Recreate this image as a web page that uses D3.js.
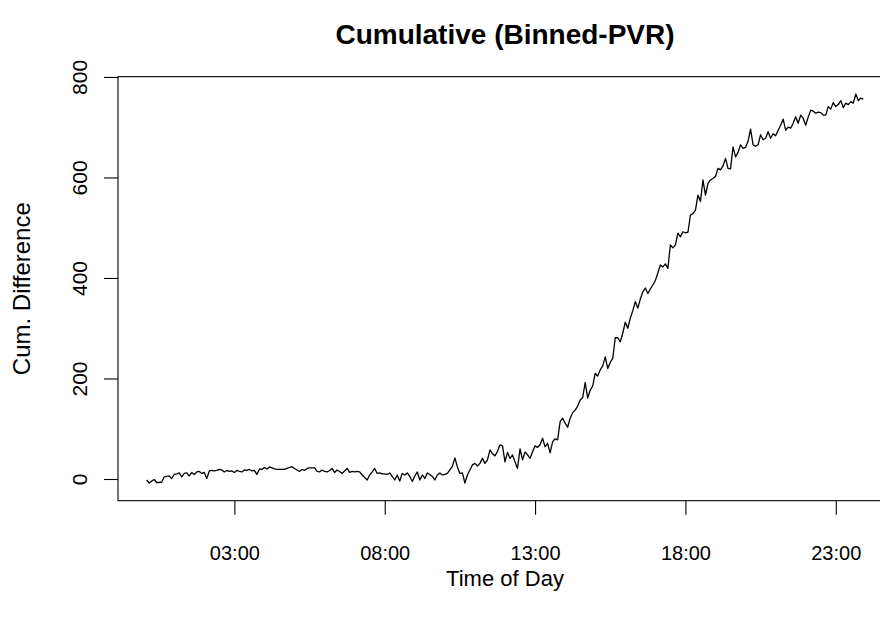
<!DOCTYPE html>
<html>
<head>
<meta charset="utf-8">
<script src="https://cdn.jsdelivr.net/npm/d3@7"></script>
<style>
  html, body { margin: 0; padding: 0; background: #fff; }
  svg { display: block; font-family: "Liberation Sans", Arial, Helvetica, sans-serif; }
</style>
</head>
<body>
<svg id="chart" width="880" height="621"></svg>
<script>
// ---- data ----
const chartTitle = "Cumulative (Binned-PVR)";
const xLabel = "Time of Day";
const yLabel = "Cum. Difference";

// bin times (minutes after midnight), 5-minute bins 00:05 .. 23:55
const binMinutes = d3.range(5, 1440, 5);

// cumulative difference per bin
const cumDiff = [
  -2, -8, -4, -1, -7, -7, -6, 4, 5, 6,
  1, 9, 10, 12, 4, 11, 12, 6, 13, 9,
  14, 15, 11, 13, 1, 16, 17, 16, 17, 19,
  18, 14, 17, 15, 16, 13, 17, 15, 14, 18,
  17, 19, 16, 17, 9, 20, 19, 23, 20, 24,
  22, 20, 19, 19, 19, 19, 21, 23, 24, 21,
  18, 15, 19, 17, 21, 22, 22, 22, 15, 14,
  18, 15, 14, 17, 21, 13, 18, 15, 11, 16,
  21, 13, 15, 14, 15, 14, 8, 3, -2, 8,
  14, 21, 11, 12, 10, 10, 9, 12, 5, -2,
  8, -4, 11, 8, 12, 5, -5, 6, 14, -2,
  8, 1, 12, 9, 5, -2, 8, 12, 8, 9,
  11, 18, 25, 42, 24, 11, 12, -8, 8, 18,
  28, 31, 26, 31, 41, 31, 38, 58, 50, 46,
  55, 68, 66, 34, 53, 41, 48, 34, 21, 60,
  38, 54, 48, 41, 54, 66, 63, 68, 81, 64,
  71, 52, 74, 80, 78, 114, 121, 111, 103, 121,
  132, 137, 145, 157, 162, 192, 161, 177, 185, 210,
  205, 217, 225, 243, 220, 232, 240, 281, 281, 273,
  290, 312, 300, 320, 335, 353, 340, 358, 372, 380,
  369, 378, 386, 395, 410, 426, 422, 428, 419, 466,
  460, 466, 489, 482, 492, 490, 491, 525, 528, 535,
  565, 552, 595, 565, 588, 595, 598, 602, 618, 615,
  623, 638, 618, 617, 661, 641, 650, 665, 658, 660,
  672, 696, 665, 662, 665, 685, 675, 678, 691, 678,
  687, 683, 694, 704, 716, 694, 700, 698, 708, 721,
  708, 724, 718, 704, 720, 734, 732, 728, 730, 729,
  724, 724, 741, 736, 749, 741, 745, 753, 739, 748,
  745, 751, 748, 766, 753, 758, 756
];

const xTickMinutes = [180, 480, 780, 1080, 1380];
const xTickLabels = ["03:00", "08:00", "13:00", "18:00", "23:00"];
const yTickValues = [0, 200, 400, 600, 800];

// ---- layout ----
const plot = { left: 118, right: 892, top: 76.7, bottom: 500.7 };
const svg = d3.select("#chart");

// R-style 4% padding of the data range
const xExt = d3.extent(binMinutes);
const xPad = (xExt[1] - xExt[0]) * 0.04;
const x = d3.scaleLinear().domain([xExt[0] - xPad, xExt[1] + xPad]).range([plot.left, plot.right]);
const y = d3.scaleLinear().domain([-43.2, 800.5]).range([plot.bottom, plot.top]);

const data = binMinutes.map((m, i) => ({ m, v: cumDiff[i] }));

// line
svg.append("path")
  .datum(data)
  .attr("fill", "none")
  .attr("stroke", "#000")
  .attr("stroke-width", 1.3)
  .attr("stroke-linejoin", "round")
  .attr("d", d3.line().x(d => x(d.m)).y(d => y(d.v)));

// box
svg.append("rect")
  .attr("x", plot.left).attr("y", plot.top)
  .attr("width", plot.right - plot.left).attr("height", plot.bottom - plot.top)
  .attr("fill", "none").attr("stroke", "#000").attr("stroke-width", 1.1);

// x axis
const xAxis = svg.append("g")
  .attr("transform", `translate(0,${plot.bottom})`)
  .call(d3.axisBottom(x).tickValues(xTickMinutes).tickFormat((d, i) => xTickLabels[i]).tickSize(14).tickPadding(31));
xAxis.select(".domain").remove();
xAxis.selectAll("line").attr("stroke", "#000").attr("stroke-width", 1.1);
xAxis.selectAll("text").attr("font-size", 20).attr("fill", "#000").attr("font-family", null);

// y axis
const yAxis = svg.append("g")
  .attr("transform", `translate(${plot.left},0)`)
  .call(d3.axisLeft(y).tickValues(yTickValues).tickFormat(d3.format("d")).tickSize(14));
yAxis.select(".domain").remove();
yAxis.selectAll("line").attr("stroke", "#000").attr("stroke-width", 1.1);
yAxis.selectAll("text")
  .attr("font-size", 21).attr("fill", "#000").attr("font-family", null)
  .attr("x", null).attr("dy", null)
  .attr("text-anchor", "middle")
  .attr("transform", "translate(-31,0) rotate(-90)");

// labels
svg.append("text")
  .attr("x", (plot.left + plot.right) / 2).attr("y", 44)
  .attr("text-anchor", "middle").attr("font-weight", "bold").attr("font-size", 28)
  .text(chartTitle);

svg.append("text")
  .attr("x", (plot.left + plot.right) / 2).attr("y", 586)
  .attr("text-anchor", "middle").attr("font-size", 22)
  .text(xLabel);

svg.append("text")
  .attr("transform", `translate(30,${(plot.top + plot.bottom) / 2}) rotate(-90)`)
  .attr("text-anchor", "middle").attr("font-size", 24)
  .text(yLabel);
</script>
</body>
</html>
